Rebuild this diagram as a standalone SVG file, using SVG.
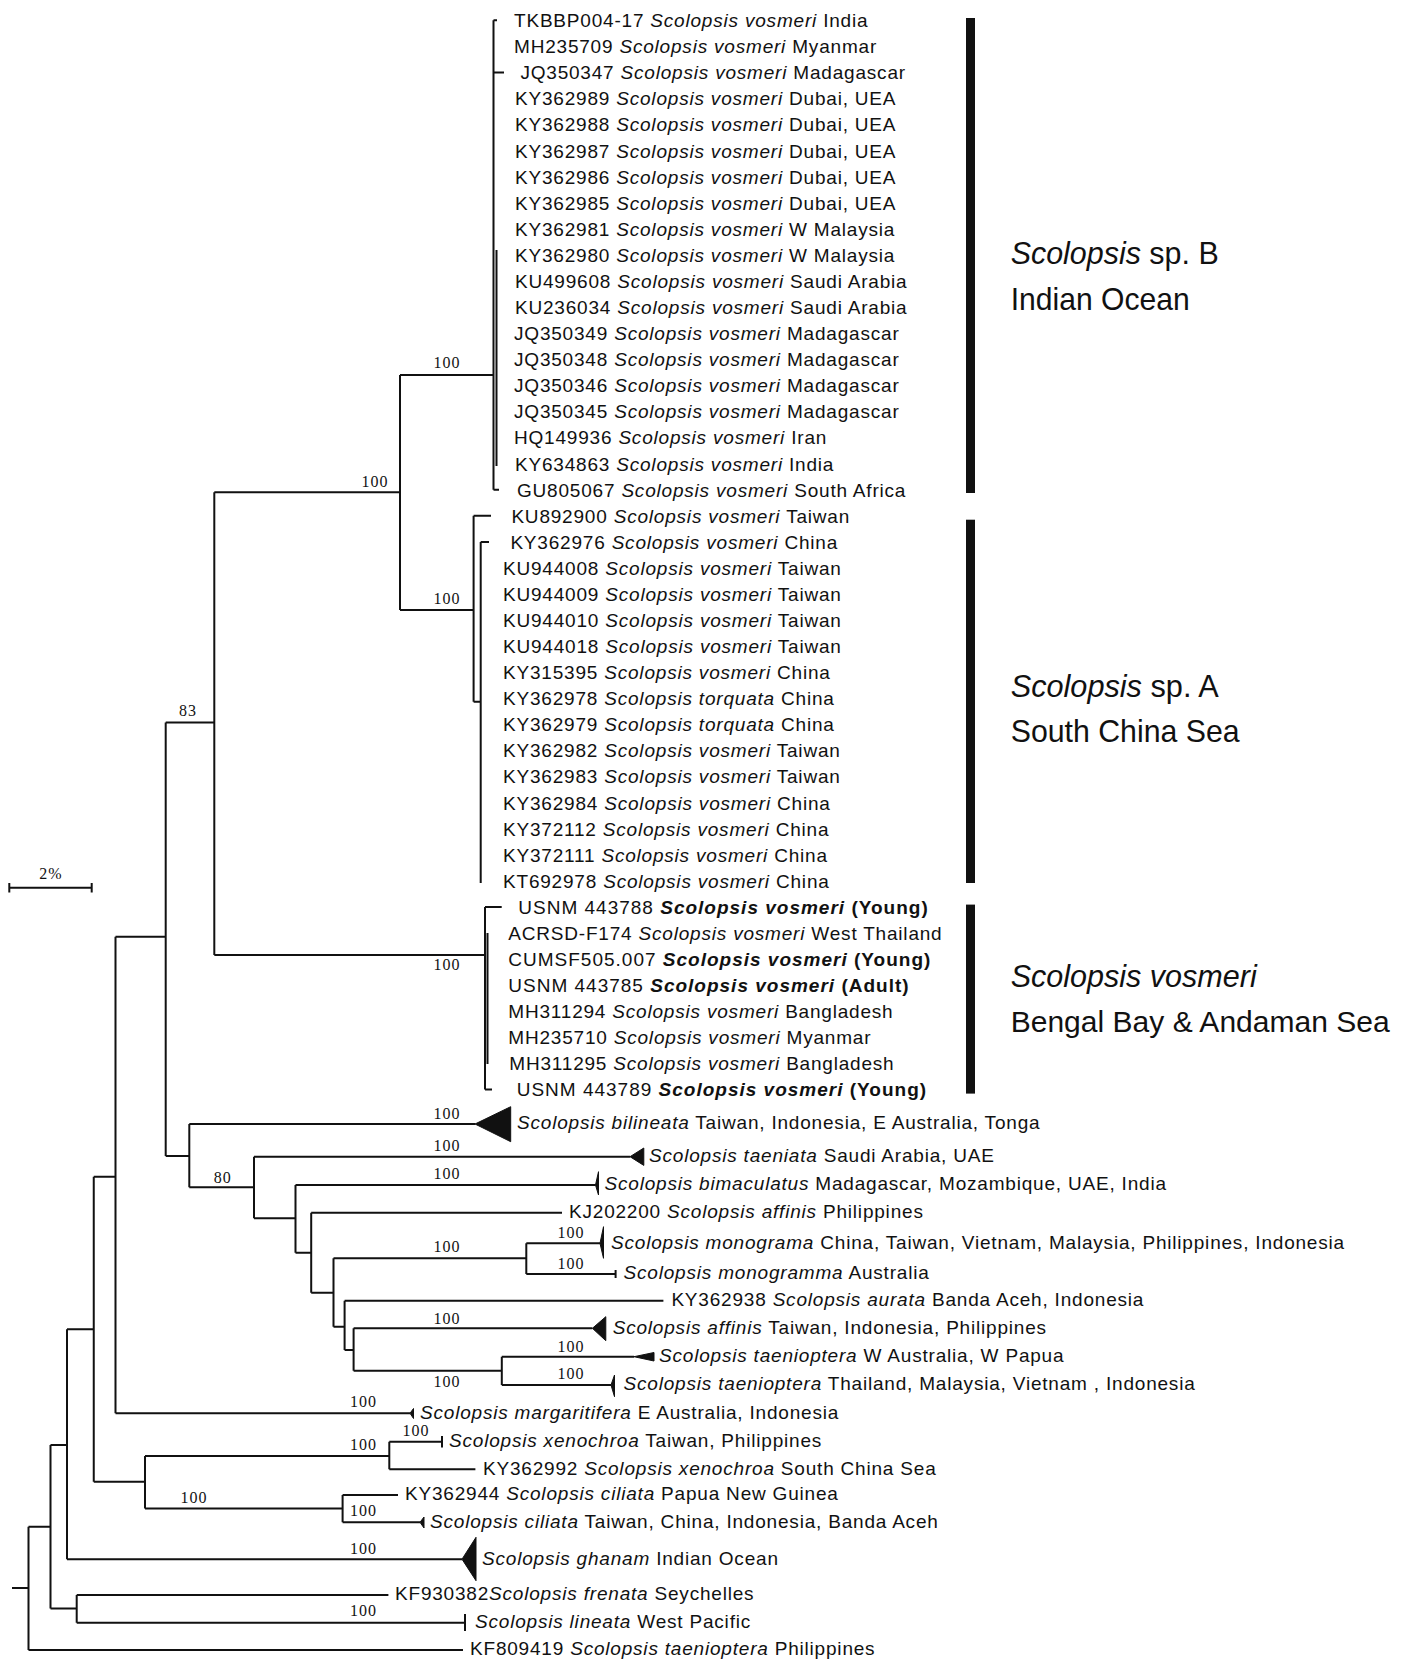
<svg xmlns="http://www.w3.org/2000/svg" width="1405" height="1677" viewBox="0 0 1405 1677">
<style>
.t{font-family:"Liberation Sans",Arial,sans-serif;font-size:19px;letter-spacing:0.8px;fill:#111}
.i{font-style:italic}
.b{font-weight:bold}
.wb{letter-spacing:1px}
.bs{font-family:"Liberation Serif","Times New Roman",serif;font-size:16px;letter-spacing:1px;fill:#111;text-anchor:middle}
.big{font-family:"Liberation Sans",Arial,sans-serif;font-size:32px;fill:#111}
.big2{font-family:"Liberation Sans",Arial,sans-serif;font-size:29.5px;fill:#111}
.br{fill:none;stroke:#111;stroke-width:2}
.tri{fill:#111;stroke:#111;stroke-width:1}
.bar{fill:#111}
</style>
<rect width="1405" height="1677" fill="#fff"/>
<g id="connectors" class="br">
<path d="M493.5,20.3V489.7M496.5,250V466M493.5,20.3H497M493.5,72.5H504M493.5,489.7H499M400,375H493.5"/>
<path d="M473.6,515.8V701.7M473.6,515.8H491M480.7,541.9V883M480.7,541.9H489M473.6,701.7H480.7M400,610H473.6M400,375V610M214.3,492.3H400"/>
<path d="M485,907V1089.6M487.5,933V1064M485,907H501.7M485,1089.6H492M214.3,955H485M214.3,492.3V955M165.7,722.4H214.3"/>
<path d="M165.7,722.4V1156M165.7,1156H189.3M115.5,936.7H165.7M115.5,936.7V1413.3M115.5,1413.3H410"/>
<path d="M189.3,1124V1187.3M189.3,1124H475M189.3,1187.3H254M254,1156.7V1218.3M254,1156.7H630M254,1218.3H295.5M295.5,1185V1252.7M295.5,1185H595.5M295.5,1252.7H311.2"/>
<path d="M311.2,1212.7V1292.7M311.2,1212.7H562M311.2,1292.7H333.5M333.5,1258.3V1326.7M333.5,1258.3H526.3M333.5,1326.7H344.6M526.3,1243.3V1274M526.3,1243.3H600M526.3,1274H615.6"/>
<path d="M344.6,1300.7V1350M344.6,1300.7H663.4M344.6,1350H353.6M353.6,1328.3V1370.7M353.6,1328.3H592.4M353.6,1370.7H501.8M501.8,1356.7V1385M501.8,1356.7H634M501.8,1385H611"/>
<path d="M93.75,1176.7H115.5M93.75,1176.7V1481.7M93.75,1481.7H145M145,1456V1508.6M145,1456H389.3M145,1508.6H342.6M389.3,1441.7V1469.3M389.3,1441.7H442M389.3,1469.3H475.4M342.6,1495V1522.3M342.6,1495H398M342.6,1522.3H420"/>
<path d="M67,1329.2H93.75M67,1329.2V1559.2M67,1559.2H462M50.5,1445H67M50.5,1445V1608.5M50.5,1608.5H76.7M76.7,1595V1622.7M76.7,1595H388.4M76.7,1622.7H465M28.5,1526.7H50.5M28.5,1526.7V1650M28.5,1650H463M12,1588H28.5"/>
</g>
<g id="scale-bar">
<path class="br" d="M9.3,887.8H91.7M9.3,883V892.6M91.7,883V892.6"/>
<text class="bs" x="51" y="879">2%</text>
</g>
<g id="bootstrap">
<text class="bs" x="447" y="367.5">100</text>
<text class="bs" x="447" y="604">100</text>
<text class="bs" x="375" y="486.5">100</text>
<text class="bs" x="447" y="970">100</text>
<text class="bs" x="188" y="716">83</text>
<text class="bs" x="447" y="1118.5">100</text>
<text class="bs" x="222.8" y="1182.5">80</text>
<text class="bs" x="447" y="1150.5">100</text>
<text class="bs" x="447" y="1178.5">100</text>
<text class="bs" x="447" y="1252.2">100</text>
<text class="bs" x="571" y="1237.5">100</text>
<text class="bs" x="571" y="1268.5">100</text>
<text class="bs" x="447" y="1323.5">100</text>
<text class="bs" x="571" y="1352.2">100</text>
<text class="bs" x="571" y="1378.8">100</text>
<text class="bs" x="447" y="1387.2">100</text>
<text class="bs" x="363.6" y="1407">100</text>
<text class="bs" x="416" y="1435.5">100</text>
<text class="bs" x="363.6" y="1449.5">100</text>
<text class="bs" x="194" y="1502.8">100</text>
<text class="bs" x="363.6" y="1516.2">100</text>
<text class="bs" x="363.6" y="1553.5">100</text>
<text class="bs" x="363.6" y="1616">100</text>
</g>
<g id="clade-B">
<rect class="bar" x="966" y="18" width="9" height="475"/>
<text class="big" x="1010.7" y="264.3" textLength="208" lengthAdjust="spacingAndGlyphs"><tspan class="i">Scolopsis</tspan> sp. B</text>
<text class="big" x="1010.7" y="309.5" textLength="179" lengthAdjust="spacingAndGlyphs">Indian Ocean</text>
</g>
<g id="clade-A">
<rect class="bar" x="966" y="519.7" width="9" height="363.3"/>
<text class="big" x="1010.7" y="696.6" textLength="208" lengthAdjust="spacingAndGlyphs"><tspan class="i">Scolopsis</tspan> sp. A</text>
<text class="big" x="1010.7" y="742" textLength="229" lengthAdjust="spacingAndGlyphs">South China Sea</text>
</g>
<g id="clade-vosmeri">
<rect class="bar" x="966" y="904.6" width="9" height="189"/>
<text class="big i" x="1010.7" y="987" textLength="246" lengthAdjust="spacingAndGlyphs">Scolopsis vosmeri</text>
<text class="big2" x="1010.7" y="1031.5" textLength="379" lengthAdjust="spacingAndGlyphs">Bengal Bay &amp; Andaman Sea</text>
</g>
<g id="leaves-B" class="t">
<g id="n0"><text x="514" y="27.1">TKBBP004-17 <tspan class="i">Scolopsis vosmeri</tspan> India</text></g>
<g id="n1"><text x="514" y="53.2">MH235709 <tspan class="i">Scolopsis vosmeri</tspan> Myanmar</text></g>
<g id="n2"><text x="520.4" y="79.3">JQ350347 <tspan class="i">Scolopsis vosmeri</tspan> Madagascar</text></g>
<g id="n3"><text x="515" y="105.3">KY362989 <tspan class="i">Scolopsis vosmeri</tspan> Dubai, UEA</text></g>
<g id="n4"><text x="515" y="131.4">KY362988 <tspan class="i">Scolopsis vosmeri</tspan> Dubai, UEA</text></g>
<g id="n5"><text x="515" y="157.5">KY362987 <tspan class="i">Scolopsis vosmeri</tspan> Dubai, UEA</text></g>
<g id="n6"><text x="515" y="183.6">KY362986 <tspan class="i">Scolopsis vosmeri</tspan> Dubai, UEA</text></g>
<g id="n7"><text x="515" y="209.7">KY362985 <tspan class="i">Scolopsis vosmeri</tspan> Dubai, UEA</text></g>
<g id="n8"><text x="515" y="235.7">KY362981 <tspan class="i">Scolopsis vosmeri</tspan> W Malaysia</text></g>
<g id="n9"><text x="515" y="261.8">KY362980 <tspan class="i">Scolopsis vosmeri</tspan> W Malaysia</text></g>
<g id="n10"><text x="515" y="287.9">KU499608 <tspan class="i">Scolopsis vosmeri</tspan> Saudi Arabia</text></g>
<g id="n11"><text x="515" y="314">KU236034 <tspan class="i">Scolopsis vosmeri</tspan> Saudi Arabia</text></g>
<g id="n12"><text x="514" y="340.1">JQ350349 <tspan class="i">Scolopsis vosmeri</tspan> Madagascar</text></g>
<g id="n13"><text x="514" y="366.1">JQ350348 <tspan class="i">Scolopsis vosmeri</tspan> Madagascar</text></g>
<g id="n14"><text x="514" y="392.2">JQ350346 <tspan class="i">Scolopsis vosmeri</tspan> Madagascar</text></g>
<g id="n15"><text x="514" y="418.3">JQ350345 <tspan class="i">Scolopsis vosmeri</tspan> Madagascar</text></g>
<g id="n16"><text x="514" y="444.4">HQ149936 <tspan class="i">Scolopsis vosmeri</tspan> Iran</text></g>
<g id="n17"><text x="515" y="470.5">KY634863 <tspan class="i">Scolopsis vosmeri</tspan> India</text></g>
<g id="n18"><text x="517" y="496.5">GU805067 <tspan class="i">Scolopsis vosmeri</tspan> South Africa</text></g>
</g>
<g id="leaves-A" class="t">
<g id="n19"><text x="511.4" y="522.6">KU892900 <tspan class="i">Scolopsis vosmeri</tspan> Taiwan</text></g>
<g id="n20"><text x="510.4" y="548.7">KY362976 <tspan class="i">Scolopsis vosmeri</tspan> China</text></g>
<g id="n21"><text x="503" y="574.8">KU944008 <tspan class="i">Scolopsis vosmeri</tspan> Taiwan</text></g>
<g id="n22"><text x="503" y="600.9">KU944009 <tspan class="i">Scolopsis vosmeri</tspan> Taiwan</text></g>
<g id="n23"><text x="503" y="626.9">KU944010 <tspan class="i">Scolopsis vosmeri</tspan> Taiwan</text></g>
<g id="n24"><text x="503" y="653">KU944018 <tspan class="i">Scolopsis vosmeri</tspan> Taiwan</text></g>
<g id="n25"><text x="503" y="679.1">KY315395 <tspan class="i">Scolopsis vosmeri</tspan> China</text></g>
<g id="n26"><text x="503" y="705.2">KY362978 <tspan class="i">Scolopsis torquata</tspan> China</text></g>
<g id="n27"><text x="503" y="731.3">KY362979 <tspan class="i">Scolopsis torquata</tspan> China</text></g>
<g id="n28"><text x="503" y="757.3">KY362982 <tspan class="i">Scolopsis vosmeri</tspan> Taiwan</text></g>
<g id="n29"><text x="503" y="783.4">KY362983 <tspan class="i">Scolopsis vosmeri</tspan> Taiwan</text></g>
<g id="n30"><text x="503" y="809.5">KY362984 <tspan class="i">Scolopsis vosmeri</tspan> China</text></g>
<g id="n31"><text x="503" y="835.6">KY372112 <tspan class="i">Scolopsis vosmeri</tspan> China</text></g>
<g id="n32"><text x="503" y="861.7">KY372111 <tspan class="i">Scolopsis vosmeri</tspan> China</text></g>
<g id="n33"><text x="503" y="887.7">KT692978 <tspan class="i">Scolopsis vosmeri</tspan> China</text></g>
</g>
<g id="leaves-vosmeri" class="t">
<g id="n34"><text class="wb" x="518.3" y="913.8">USNM 443788 <tspan class="i b">Scolopsis vosmeri</tspan> <tspan class="b">(Young)</tspan></text></g>
<g id="n35"><text x="508.3" y="939.9">ACRSD-F174 <tspan class="i">Scolopsis vosmeri</tspan> West Thailand</text></g>
<g id="n36"><text class="wb" x="508.3" y="966">CUMSF505.007 <tspan class="i b">Scolopsis vosmeri</tspan> <tspan class="b">(Young)</tspan></text></g>
<g id="n37"><text class="wb" x="508.3" y="992.1">USNM 443785 <tspan class="i b">Scolopsis vosmeri</tspan> <tspan class="b">(Adult)</tspan></text></g>
<g id="n38"><text x="508.3" y="1018.1">MH311294 <tspan class="i">Scolopsis vosmeri</tspan> Bangladesh</text></g>
<g id="n39"><text x="508.3" y="1044.2">MH235710 <tspan class="i">Scolopsis vosmeri</tspan> Myanmar</text></g>
<g id="n40"><text x="509.3" y="1070.3">MH311295 <tspan class="i">Scolopsis vosmeri</tspan> Bangladesh</text></g>
<g id="n41"><text class="wb" x="516.7" y="1096.4">USNM 443789 <tspan class="i b">Scolopsis vosmeri</tspan> <tspan class="b">(Young)</tspan></text></g>
</g>
<g id="leaves-other" class="t">
<g id="bilineata"><polygon class="tri" points="475,1124 510.7,1106.7 510.7,1141.7"/><text x="517" y="1129.3"><tspan class="i">Scolopsis bilineata</tspan> Taiwan, Indonesia, E Australia, Tonga</text></g>
<g id="taeniata"><polygon class="tri" points="630,1156.7 643.8,1148 643.8,1165.4"/><text x="649" y="1162"><tspan class="i">Scolopsis taeniata</tspan> Saudi Arabia, UAE</text></g>
<g id="bimaculatus"><polygon class="tri" points="595.5,1185 598.5,1171.7 598.5,1195"/><text x="604.5" y="1190.3"><tspan class="i">Scolopsis bimaculatus</tspan> Madagascar, Mozambique, UAE, India</text></g>
<g id="KJ202200"><text x="569" y="1218">KJ202200 <tspan class="i">Scolopsis affinis</tspan> Philippines</text></g>
<g id="monograma"><polygon class="tri" points="600,1243.3 603.5,1226.7 603.5,1258.3"/><text x="611" y="1248.5"><tspan class="i">Scolopsis monograma</tspan> China, Taiwan, Vietnam, Malaysia, Philippines, Indonesia</text></g>
<g id="monogramma"><path class="br" d="M615.6,1270V1278"/><text x="623.6" y="1279.3"><tspan class="i">Scolopsis monogramma</tspan> Australia</text></g>
<g id="KY362938"><text x="671.4" y="1306">KY362938 <tspan class="i">Scolopsis aurata</tspan> Banda Aceh, Indonesia</text></g>
<g id="affinis"><polygon class="tri" points="592.4,1328.3 605.8,1316.7 605.8,1340.7"/><text x="612.7" y="1333.5"><tspan class="i">Scolopsis affinis</tspan> Taiwan, Indonesia, Philippines</text></g>
<g id="taenioptera-W"><polygon class="tri" points="634,1356.7 654,1352.5 654,1361"/><text x="659" y="1362"><tspan class="i">Scolopsis taenioptera</tspan> W Australia, W Papua</text></g>
<g id="taenioptera-T"><polygon class="tri" points="611,1385 614.5,1375 614.5,1396.7"/><text x="623.6" y="1390.3"><tspan class="i">Scolopsis taenioptera</tspan> Thailand, Malaysia, Vietnam , Indonesia</text></g>
<g id="margaritifera"><polygon class="tri" points="410,1413.3 413.5,1408.5 413.5,1418.5"/><text x="420" y="1418.5"><tspan class="i">Scolopsis margaritifera</tspan> E Australia, Indonesia</text></g>
<g id="xenochroa"><path class="br" d="M442,1436V1447.5"/><text x="449" y="1447"><tspan class="i">Scolopsis xenochroa</tspan> Taiwan, Philippines</text></g>
<g id="KY362992"><text x="483" y="1474.5">KY362992 <tspan class="i">Scolopsis xenochroa</tspan> South China Sea</text></g>
<g id="KY362944"><text x="405" y="1500.3">KY362944 <tspan class="i">Scolopsis ciliata</tspan> Papua New Guinea</text></g>
<g id="ciliata"><polygon class="tri" points="420,1522.3 424,1517 424,1528"/><text x="430" y="1527.5"><tspan class="i">Scolopsis ciliata</tspan> Taiwan, China, Indonesia, Banda Aceh</text></g>
<g id="ghanam"><polygon class="tri" points="462,1559.2 476,1537.3 476,1580.7"/><text x="482" y="1564.5"><tspan class="i">Scolopsis ghanam</tspan> Indian Ocean</text></g>
<g id="KF930382"><text x="395" y="1600.3">KF930382<tspan class="i">Scolopsis frenata</tspan> Seychelles</text></g>
<g id="lineata"><path class="br" d="M465,1614V1631"/><text x="475" y="1628"><tspan class="i">Scolopsis lineata</tspan> West Pacific</text></g>
<g id="KF809419"><text x="470" y="1655.3">KF809419 <tspan class="i">Scolopsis taenioptera</tspan> Philippines</text></g>
</g>
</svg>
